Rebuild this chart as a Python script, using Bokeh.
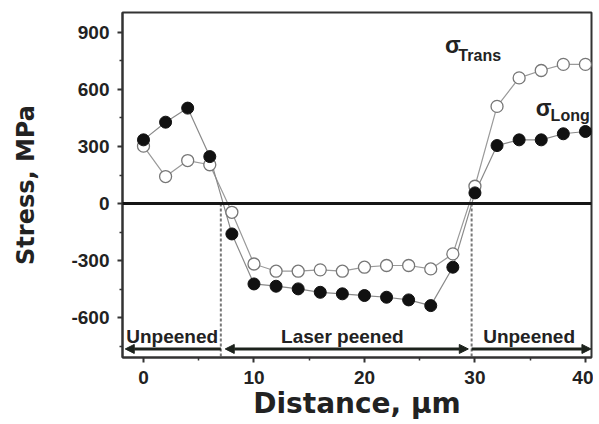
from math import pi
from bokeh.plotting import figure
from bokeh.models import (FixedTicker, Span, Arrow, NormalHead, Label, Range1d, ColumnDataSource,
                          PrintfTickFormatter)
from bokeh.embed import file_html
from bokeh.resources import INLINE

# ---- data ----
distance = [0, 2, 4, 6, 8, 10, 12, 14, 16, 18, 20, 22, 24, 26, 28, 30, 32, 34, 36, 38, 40]
sigma_long = [335, 428, 502, 247, -160, -423, -435, -449, -467, -475, -484, -493, -507, -537, -335,
              56, 305, 335, 335, 367, 379]
sigma_trans = [302, 142, 226, 204, -46, -318, -356, -356, -349, -356, -335, -326, -326, -344, -265,
               91, 511, 661, 700, 732, 732]
x_ticks = [0, 10, 20, 30, 40]
x_minor = [5, 15, 25, 35]
y_ticks = [-600, -300, 0, 300, 600, 900]
y_minor = [-750, -450, -150, 150, 450, 750]
boundaries = [7.0, 29.7]
regions = ["Unpeened", "Laser peened", "Unpeened"]
region_centers = [2.6, 18.0, 34.9]

FONT = "Liberation Sans"
TXT = "#222222"

p = figure(width=593, height=424, x_range=Range1d(-1.9, 40.55), y_range=Range1d(-810, 1005),
           output_backend="svg", toolbar_location=None,
           min_border_left=122, min_border_right=2, min_border_top=12, min_border_bottom=67)
p.xgrid.visible = False
p.ygrid.visible = False
p.outline_line_color = "#333333"
p.outline_line_width = 2

for ax in (p.xaxis[0], p.yaxis[0]):
    ax.axis_line_color = "#333333"
    ax.axis_line_width = 2
    ax.major_tick_line_color = "#333333"
    ax.minor_tick_line_color = "#333333"
    ax.major_tick_line_width = 2
    ax.minor_tick_line_width = 1.5
    ax.major_tick_in = 0
    ax.major_tick_out = 5
    ax.minor_tick_in = 0
    ax.minor_tick_out = 3
    ax.major_label_text_font = FONT
    ax.major_label_text_font_style = "bold"
    ax.major_label_text_font_size = "19px"
    ax.major_label_text_color = TXT
    ax.axis_label_text_font = "DejaVu Sans"
    ax.axis_label_text_font_style = "bold"
    ax.axis_label_text_color = TXT

p.xaxis.ticker = FixedTicker(ticks=x_ticks, minor_ticks=x_minor)
p.yaxis.ticker = FixedTicker(ticks=y_ticks, minor_ticks=y_minor)
p.xaxis.formatter = PrintfTickFormatter(format="%d")
p.yaxis.formatter = PrintfTickFormatter(format="%d")
p.xaxis.major_label_standoff = 8
p.yaxis.major_label_standoff = 8
p.xaxis.axis_label = "Distance, μm"
p.xaxis.axis_label_text_font_size = "28px"
p.xaxis.axis_label_standoff = 0
p.yaxis.axis_label = "Stress, MPa"
p.yaxis.axis_label_text_font_size = "24px"
p.yaxis.axis_label_standoff = 28

# zero line
p.add_layout(Span(location=0, dimension="width", line_color="#151515", line_width=3))

# region boundaries (dotted)
p.segment(x0=boundaries, y0=[0, 0], x1=boundaries, y1=[-810, -810],
          line_color="#777777", line_width=2, line_dash="3 2")

# region arrows
head = dict(size=9, fill_color="#1c221c", line_color="#1c221c")
p.add_layout(Arrow(x_start=boundaries[0], y_start=-765, x_end=-1.65, y_end=-765,
                   end=NormalHead(**head), line_color="#1c221c", line_width=3))
p.add_layout(Arrow(x_start=boundaries[0] + 0.4, y_start=-765, x_end=boundaries[1] - 0.3, y_end=-765,
                   start=NormalHead(**head), end=NormalHead(**head), line_color="#1c221c", line_width=3))
p.add_layout(Arrow(x_start=boundaries[1], y_start=-765, x_end=40.5, y_end=-765,
                   end=NormalHead(**head), line_color="#1c221c", line_width=3))

for name, cx in zip(regions, region_centers):
    p.add_layout(Label(x=cx, y=-700, text=name, text_align="center", text_baseline="alphabetic",
                       text_font=FONT, text_font_style="bold", text_font_size="19px", text_color=TXT))

src = ColumnDataSource(dict(x=distance, long=sigma_long, trans=sigma_trans))
p.line("x", "trans", source=src, line_color="#9a9a9a", line_width=1.2)
p.line("x", "long", source=src, line_color="#8a8a8a", line_width=1.2)
p.scatter("x", "trans", source=src, size=12, fill_color="white", line_color="#777777", line_width=1.3)
p.scatter("x", "long", source=src, size=12, fill_color="#111111", line_color="#111111")

# series labels
def lab(x, y, t, size):
    p.add_layout(Label(x=x, y=y, text=t, text_align="left", text_baseline="alphabetic",
                       text_font=FONT, text_font_style="bold", text_font_size=size, text_color=TXT))

lab(27.3, 832, "σ", "23px")
lab(28.5, 779, "Trans", "16px")
lab(35.5, 505, "σ", "23px")
lab(36.85, 463, "Long", "16px")

open("out.html", "w").write(file_html(p, INLINE))
